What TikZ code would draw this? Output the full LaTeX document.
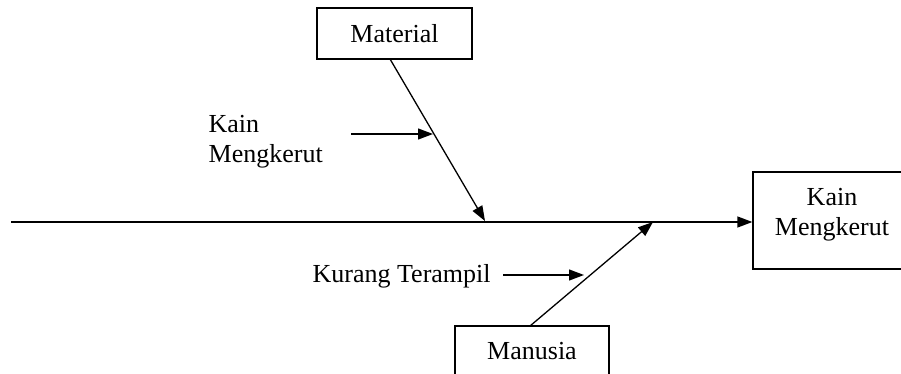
\documentclass[tikz,border=0pt]{standalone}
\usepackage{fontspec}
\setmainfont{Liberation Serif}
\usetikzlibrary{arrows.meta}
\begin{document}
\begin{tikzpicture}[x=1pt,y=-1pt,
  line width=1.3pt,
  every node/.style={font=\fontsize{26}{30}\selectfont},
  causebox/.style={draw, rectangle, inner sep=0pt, line width=1.3pt},
  lbl/.style={inner sep=0pt},
  tip/.style={-{Triangle[length=15pt,width=11pt]}}]
  \useasboundingbox (0,0) rectangle (901,374);

  % category and effect boxes
  \node[causebox, minimum width=155pt, minimum height=51pt] (material) at (394.5,33.5) {Material};
  \node[causebox, minimum width=154pt, minimum height=51pt] (manusia) at (532,351.5) {Manusia};
  \node[causebox, minimum width=158pt, minimum height=97pt] (effect) at (832,220.5) {};
  \node[lbl, align=center] (effectText) at ([yshift=6pt]effect.center) {Kain\\Mengkerut};

  % spine
  \coordinate (spine) at (11,222);
  \draw[tip] (spine) -- (effect.west |- spine);

  % main bones
  \coordinate (matTop) at (390,59);
  \coordinate (matEnd) at (485,221);
  \draw[tip] (matTop) -- (matEnd);
  \coordinate (manBot) at (530,326);
  \coordinate (manEnd) at (653,222);
  \draw[tip] (manBot) -- (manEnd);

  % causes
  \node[lbl, align=left, anchor=west] (cause1) at (208,142) {Kain\\Mengkerut};
  \coordinate (c1a) at (351,134);
  \coordinate (c1b) at (433,134);
  \draw[tip] (c1a) -- (c1b);

  \node[lbl, anchor=base west] (cause2) at (312,282) {Kurang Terampil};
  \coordinate (c2a) at (503,275);
  \coordinate (c2b) at (584,275);
  \draw[tip] (c2a) -- (c2b);
\end{tikzpicture}
\end{document}
